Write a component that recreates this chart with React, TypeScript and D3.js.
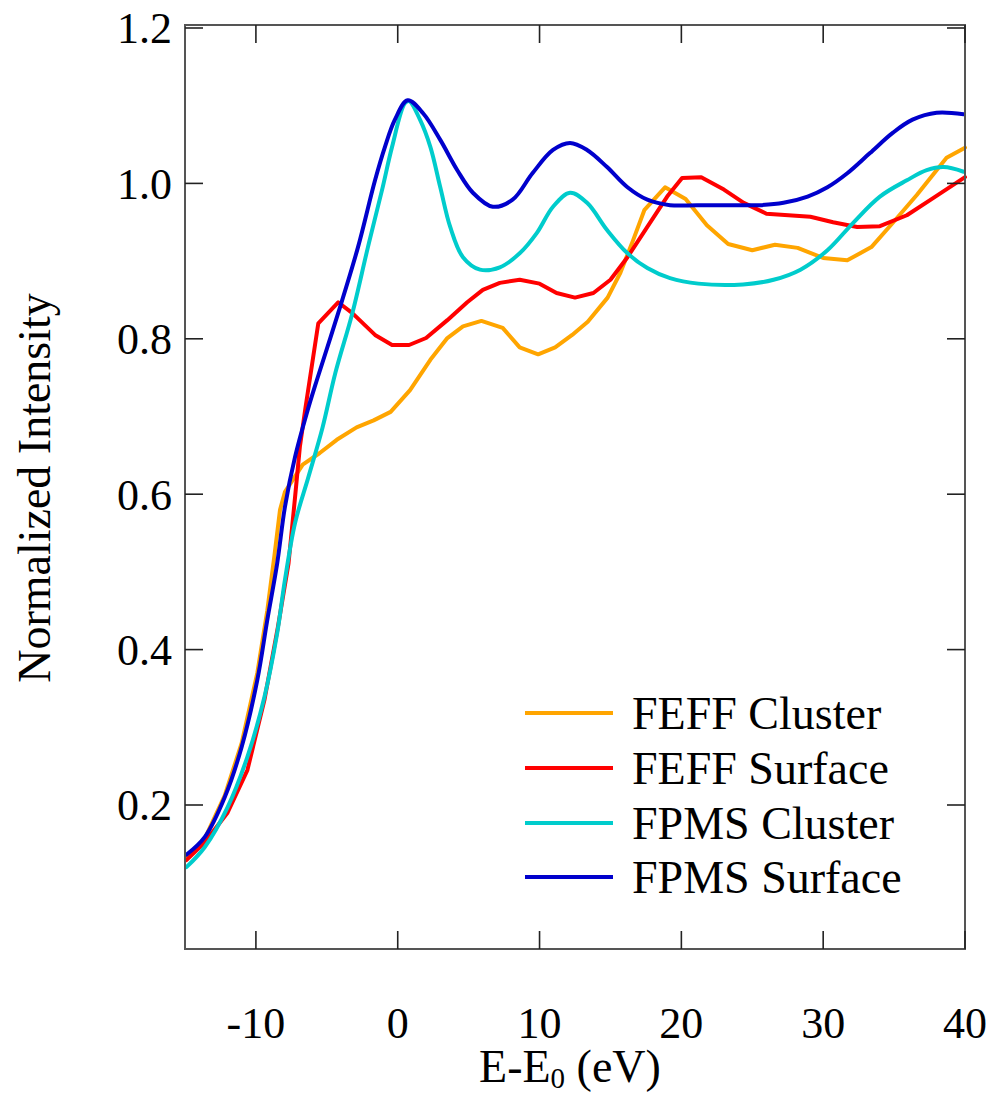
import React from "react";
import * as d3 from "d3";

// Energy relative to the edge (eV) and normalized intensity for each calculation
const feffClusterX = [-14.9, -13.6, -12.2, -11.0, -9.9, -9.2, -8.7, -8.3, -7.95, -6.7, -5.5, -4.3, -2.9, -1.7, -0.5, 0.87, 2.3, 3.5, 4.6, 5.9, 7.4, 8.6, 9.9, 11.1, 12.3, 13.4, 14.8, 15.7, 16.6, 17.4, 18.85, 20.3, 21.8, 23.3, 25.0, 26.6, 28.2, 30.0, 31.7, 33.4, 34.9, 36.6, 38.7, 40.0];
const feffClusterY = [0.132, 0.157, 0.212, 0.28, 0.37, 0.45, 0.52, 0.58, 0.603, 0.638, 0.653, 0.67, 0.686, 0.695, 0.706, 0.734, 0.773, 0.801, 0.816, 0.823, 0.814, 0.789, 0.78, 0.789, 0.805, 0.822, 0.853, 0.885, 0.927, 0.966, 0.995, 0.98, 0.946, 0.922, 0.914, 0.921, 0.917, 0.904, 0.901, 0.918, 0.949, 0.985, 1.033, 1.046];

const feffSurfaceX = [-14.9, -13.6, -12.0, -10.6, -9.4, -8.45, -7.7, -7.24, -6.9, -6.5, -5.6, -4.2, -3.2, -1.6, -0.4, 0.8, 2.0, 3.5, 4.9, 6.0, 7.2, 8.6, 10.0, 11.2, 12.5, 13.8, 15.0, 16.2, 17.6, 19.0, 20.05, 21.4, 23.0, 24.4, 26.0, 29.1, 30.7, 32.4, 34.0, 35.9, 37.75, 40.0];
const feffSurfaceY = [0.129, 0.152, 0.19, 0.245, 0.335, 0.429, 0.511, 0.596, 0.661, 0.712, 0.82, 0.847, 0.833, 0.805, 0.792, 0.792, 0.801, 0.824, 0.847, 0.863, 0.872, 0.876, 0.871, 0.859, 0.853, 0.859, 0.876, 0.905, 0.944, 0.983, 1.007, 1.008, 0.992, 0.975, 0.961, 0.957, 0.95, 0.944, 0.945, 0.959, 0.981, 1.008];

const fpmsClusterX = [-14.9, -13.6, -12.0, -10.6, -9.4, -8.5, -7.95, -7.24, -6.3, -5.3, -4.4, -3.2, -2.1, -1.1, -0.4, 0.5, 0.8, 1.57, 2.3, 3.0, 3.7, 4.6, 5.8, 7.2, 8.6, 9.8, 10.95, 12.15, 13.35, 14.76, 16.2, 17.6, 19.2, 21.2, 24.35, 26.5, 28.4, 30.3, 32.1, 34.0, 35.9, 37.3, 38.5, 39.9];
const fpmsClusterY = [0.12, 0.146, 0.197, 0.262, 0.339, 0.421, 0.49, 0.563, 0.622, 0.686, 0.756, 0.833, 0.918, 0.992, 1.047, 1.103, 1.106, 1.082, 1.047, 0.995, 0.944, 0.905, 0.889, 0.892, 0.91, 0.936, 0.97, 0.988, 0.975, 0.94, 0.91, 0.891, 0.878, 0.871, 0.87, 0.876, 0.889, 0.914, 0.949, 0.983, 1.004, 1.017, 1.021, 1.015];

const fpmsSurfaceX = [-14.9, -13.6, -12.2, -11.0, -9.9, -9.2, -8.5, -7.95, -7.24, -6.4, -5.7, -4.2, -2.8, -1.6, -0.9, -0.2, 0.7, 1.8, 3.0, 4.2, 5.3, 6.7, 8.1, 9.5, 10.95, 12.15, 13.35, 14.76, 16.2, 17.6, 19.2, 21.1, 23.0, 25.5, 27.2, 28.9, 30.3, 31.7, 33.3, 34.9, 36.3, 38.0, 39.9];
const fpmsSurfaceY = [0.136, 0.159, 0.21, 0.275, 0.361, 0.438, 0.511, 0.584, 0.648, 0.705, 0.747, 0.833, 0.918, 1.004, 1.047, 1.082, 1.107, 1.09, 1.056, 1.017, 0.988, 0.97, 0.979, 1.013, 1.043, 1.052, 1.043, 1.021, 0.995, 0.979, 0.972, 0.972, 0.972, 0.972, 0.975, 0.983, 0.995, 1.013, 1.039, 1.065, 1.082, 1.091, 1.089];

const seriesNames = ["FEFF Cluster", "FEFF Surface", "FPMS Cluster", "FPMS Surface"];
const seriesColors = ["#FFA500", "#FF0000", "#00CCCC", "#0000CC"];

const xTicks = [-10, 0, 10, 20, 30, 40];
const yTicks = [0.2, 0.4, 0.6, 0.8, 1.0, 1.2];

const W = 994;
const H = 1094;
const frame = { left: 185, right: 965, top: 25, bottom: 949 };
const TICK = 18;
const FONT = "Liberation Serif";

export default function App() {
  const x = d3.scaleLinear().domain([-15, 40]).range([frame.left, frame.right]);
  const y = d3.scaleLinear().domain([0.2, 1.2]).range([805, 28]);

  const series = [
    { xs: feffClusterX, ys: feffClusterY, smooth: false },
    { xs: feffSurfaceX, ys: feffSurfaceY, smooth: false },
    { xs: fpmsClusterX, ys: fpmsClusterY, smooth: true },
    { xs: fpmsSurfaceX, ys: fpmsSurfaceY, smooth: true },
  ];

  const paths = series.map((s) => {
    const pts: [number, number][] = s.xs.map((v, i) => [v, s.ys[i]]);
    const gen = d3
      .line<[number, number]>()
      .x((d) => x(d[0]))
      .y((d) => y(d[1]))
      .curve(s.smooth ? d3.curveCatmullRom.alpha(0.5) : d3.curveLinear);
    return gen(pts) || "";
  });

  const legendX0 = 525;
  const legendX1 = 613;
  const legendTextX = 632;
  const legendRows = [713, 768, 823, 877];

  const font = (size: number) => ({ fontFamily: FONT, fontSize: `${size}px` });

  return (
    <svg
      width={W}
      height={H}
      style={{ position: "absolute", left: 0, top: 0, background: "#fff" }}
    >
      <rect x={0} y={0} width={W} height={H} fill="#fff" />

      {/* data curves */}
      <g fill="none" strokeWidth={4} strokeLinejoin="round" strokeLinecap="round">
        {paths.map((d, i) => (
          <path key={i} d={d} stroke={seriesColors[i]} />
        ))}
      </g>

      {/* frame */}
      <rect
        x={frame.left}
        y={frame.top}
        width={frame.right - frame.left}
        height={frame.bottom - frame.top}
        fill="none"
        stroke="#555"
        strokeWidth={2}
      />

      {/* ticks, pointing inward on every side */}
      <g stroke="#222" strokeWidth={1.6}>
        {xTicks.map((t) => (
          <g key={"xt" + t}>
            <line x1={x(t)} x2={x(t)} y1={frame.bottom} y2={frame.bottom - TICK} />
            <line x1={x(t)} x2={x(t)} y1={frame.top} y2={frame.top + TICK} />
          </g>
        ))}
        {yTicks.map((t) => (
          <g key={"yt" + t}>
            <line x1={frame.left} x2={frame.left + TICK} y1={y(t)} y2={y(t)} />
            <line x1={frame.right} x2={frame.right - TICK} y1={y(t)} y2={y(t)} />
          </g>
        ))}
      </g>

      {/* tick labels */}
      <g fill="#000">
        {xTicks.map((t) => (
          <text key={"xl" + t} x={x(t)} y={1038} textAnchor="middle" style={font(44)}>
            {t}
          </text>
        ))}
        {yTicks.map((t) => (
          <text key={"yl" + t} x={172} y={y(t)} dy="0.35em" textAnchor="end" style={font(44)}>
            {t.toFixed(1)}
          </text>
        ))}
      </g>

      {/* axis titles */}
      <text x={570} y={1082} style={font(46)} textAnchor="middle" fill="#000">
        E-E<tspan style={font(29)} dy={6}>0</tspan>
        <tspan dy={-6}> (eV)</tspan>
      </text>
      <text
        transform={`translate(50, 488) rotate(-90)`}
        style={font(46)}
        textAnchor="middle"
        fill="#000"
      >
        Normalized Intensity
      </text>

      {/* legend */}
      <g>
        {seriesNames.map((name, i) => (
          <g key={name}>
            <line
              x1={legendX0}
              x2={legendX1}
              y1={legendRows[i]}
              y2={legendRows[i]}
              stroke={seriesColors[i]}
              strokeWidth={4}
            />
            <text x={legendTextX} y={legendRows[i]} dy="0.35em" style={font(46)} fill="#000">
              {name}
            </text>
          </g>
        ))}
      </g>
    </svg>
  );
}
